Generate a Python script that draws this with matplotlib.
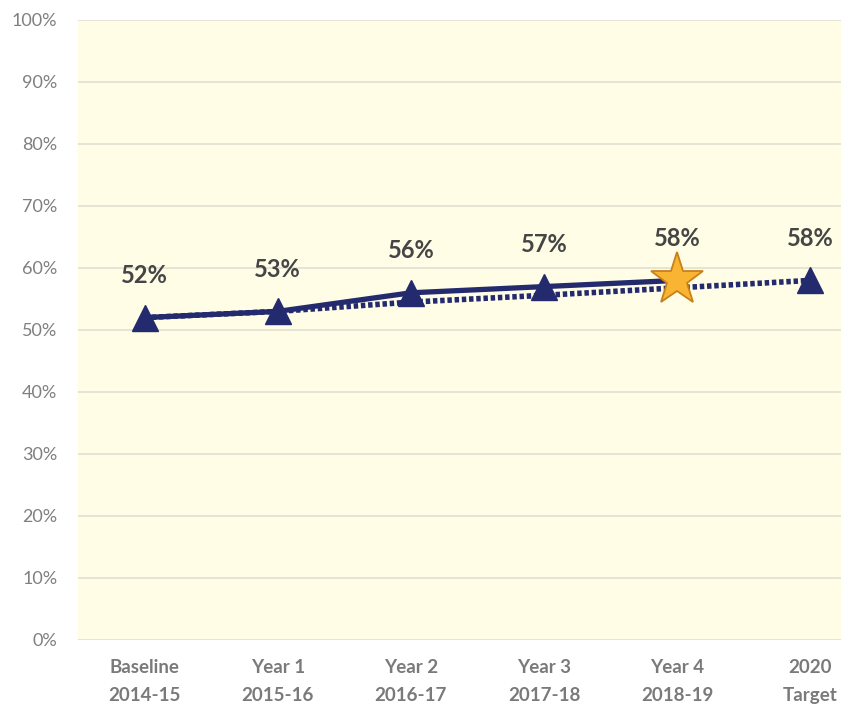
import matplotlib.pyplot as plt
from matplotlib.ticker import PercentFormatter

categories = ["Baseline\n2014-15", "Year 1\n2015-16", "Year 2\n2016-17",
              "Year 3\n2017-18", "Year 4\n2018-19", "2020\nTarget"]
actual = [52, 53, 56, 57, 58]
trajectory = [52, 53, 54.5, 55.6, 56.8, 58]
labels = ["52%", "53%", "56%", "57%", "58%", "58%"]
label_values = [52, 53, 56, 57, 58, 58]

NAVY = "#232a6e"
FONT = ["Lato", "DejaVu Sans"]

fig = plt.figure(figsize=(8.41, 7.05), dpi=100)
ax = fig.add_axes([78 / 841, 65 / 705, 1 - 78 / 841, 620 / 705])
ax.set_facecolor("#fffde6")

x = list(range(len(categories)))

# trajectory towards target (dotted)
ax.plot(x, trajectory, color=NAVY, lw=4, linestyle=(0, (0.8, 0.5)), zorder=3)
# actual values
ax.plot(x[:len(actual)], actual, color=NAVY, lw=3.8, zorder=4)
ax.plot(x[:4], actual[:4], ls="none", marker="^", ms=19, color=NAVY, zorder=5)
ax.plot([x[5]], [trajectory[5]], ls="none", marker="^", ms=19, color=NAVY, zorder=5)
ax.plot([x[4]], [actual[4]], ls="none", marker="*", ms=40, color="#f9b531",
        markeredgecolor="#c8801a", markeredgewidth=1.3, zorder=6)

for xi, v, t in zip(x, label_values, labels):
    ax.annotate(t, (xi, v), xytext=(0, 22), textcoords="offset points",
                ha="center", va="bottom", fontsize=17, fontweight="bold",
                color="#454545", family=FONT)

ax.set_ylim(0, 100)
ax.set_xlim(-0.5, 5.23)
ax.set_yticks(range(0, 101, 10))
ax.yaxis.set_major_formatter(PercentFormatter(decimals=0))
ax.set_xticks(x)
ax.set_xticklabels(categories, fontsize=13.5, fontweight="bold", color="#7a7a7a",
                   family=FONT, linespacing=1.75)
for lbl in ax.get_yticklabels():
    lbl.set_fontsize(13)
    lbl.set_color("#7f7f7f")
    lbl.set_family(FONT)
ax.tick_params(length=0)
ax.tick_params(axis="y", pad=15)
ax.tick_params(axis="x", pad=14)
ax.grid(axis="y", color="#e2dfd2", lw=1.2)
ax.set_axisbelow(True)
for s in ax.spines.values():
    s.set_visible(False)

fig.savefig("out.png", dpi=100, facecolor="white")
